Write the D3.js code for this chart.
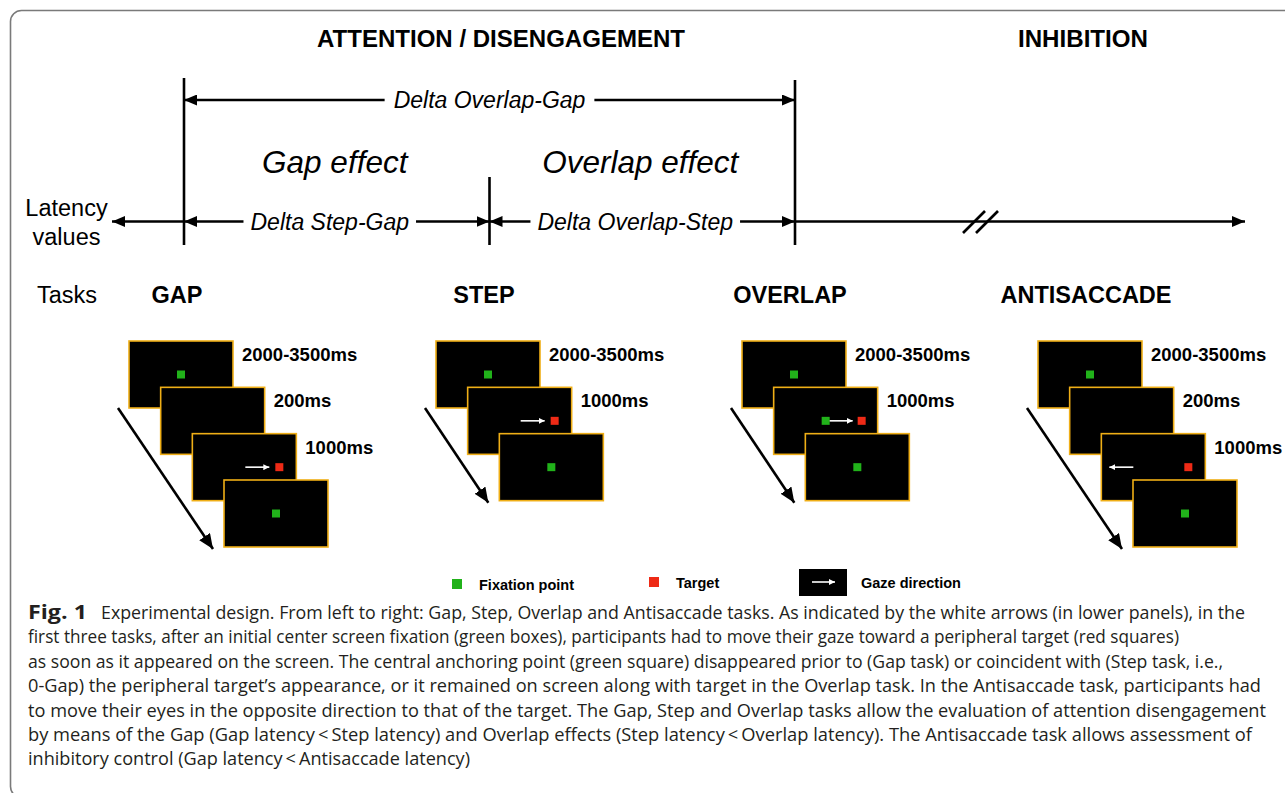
<!DOCTYPE html>
<html><head><meta charset="utf-8">
<script src="https://cdn.jsdelivr.net/npm/d3@7"></script>
<style>body{margin:0;background:#fff} svg{display:block}</style>
</head><body>
<svg id="c" width="1285" height="793"></svg>
<script>
// ---------- data ----------
const sectionTitles = ["ATTENTION / DISENGAGEMENT", "INHIBITION"];
const latencyConditions = ["Gap", "Step", "Overlap"];
const effectLabels = ["Gap effect", "Overlap effect"];
const deltaLabels = ["Delta Step-Gap", "Delta Overlap-Step"];
const totalDeltaLabel = "Delta Overlap-Gap";
const axisLabel = ["Latency", "values"];
const tasksLabel = "Tasks";
const taskNames = ["GAP", "STEP", "OVERLAP", "ANTISACCADE"];
const taskDurations = [
  ["2000-3500ms", "200ms", "1000ms"],
  ["2000-3500ms", "1000ms"],
  ["2000-3500ms", "1000ms"],
  ["2000-3500ms", "200ms", "1000ms"]
];
const taskFrames = [
  ["fixation", "blank", "target-pro", "fixation"],
  ["fixation", "target-pro", "fixation"],
  ["fixation", "target-overlap", "fixation"],
  ["fixation", "blank", "target-anti", "fixation"]
];
const legendItems = ["Fixation point", "Target", "Gaze direction"];
const captionLead = "Fig. 1";
const captionLines = [
  "Experimental design. From left to right: Gap, Step, Overlap and Antisaccade tasks. As indicated by the white arrows (in lower panels), in the",
  "first three tasks, after an initial center screen fixation (green boxes), participants had to move their gaze toward a peripheral target (red squares)",
  "as soon as it appeared on the screen. The central anchoring point (green square) disappeared prior to (Gap task) or coincident with (Step task, i.e.,",
  "0-Gap) the peripheral target\u2019s appearance, or it remained on screen along with target in the Overlap task. In the Antisaccade task, participants had",
  "to move their eyes in the opposite direction to that of the target. The Gap, Step and Overlap tasks allow the evaluation of attention disengagement",
  "by means of the Gap (Gap latency\u2009<\u2009Step latency) and Overlap effects (Step latency\u2009<\u2009Overlap latency). The Antisaccade task allows assessment of",
  "inhibitory control (Gap latency\u2009<\u2009Antisaccade latency)"
];
const captionLineEnds = [1245, 1179, 1223, 1261, 1266, 1252, 470];

// ---------- style ----------
const SANS = "'Liberation Sans', Arial, Helvetica, sans-serif";
const CAP = "'Open Sans', 'Noto Sans', sans-serif";
const GREEN = "#21b21a", RED = "#ee2a16", GOLD = "#efae16", INK = "#000";

const svg = d3.select("#c");
const defs = svg.append("defs");
function marker(id, color, len, hw) {
  defs.append("marker").attr("id", id)
    .attr("viewBox", `0 ${-hw} ${len} ${2*hw}`)
    .attr("refX", len).attr("refY", 0)
    .attr("markerWidth", len).attr("markerHeight", 2*hw)
    .attr("markerUnits", "userSpaceOnUse")
    .attr("orient", "auto-start-reverse")
    .append("path").attr("d", `M0,${-hw}L${len},0L0,${hw}Z`).attr("fill", color);
}
marker("ah", INK, 13, 5.5);
marker("ahw", "#fff", 6, 3);
marker("ahd", INK, 15, 6.5);

// frame
svg.append("rect").attr("x", 10.5).attr("y", 10.5).attr("width", 1300).attr("height", 787)
  .attr("rx", 11).attr("fill", "none").attr("stroke", "#7a7a7a").attr("stroke-width", 1.6);

// ---------- top latency schema ----------
const xLat = d3.scalePoint().domain(latencyConditions).range([184, 795]);
const yTop = 100, yAxis = 221.5;

const secX = [[317, 685], [1018, 1148]];
svg.selectAll("text.sec").data(sectionTitles).join("text").attr("class", "sec")
  .attr("x", (d, i) => secX[i][0]).attr("y", 47)
  .attr("font-family", SANS).attr("font-weight", "bold")
  .attr("font-size", 23).attr("textLength", (d, i) => secX[i][1] - secX[i][0])
  .attr("lengthAdjust", "spacingAndGlyphs").text(d => d);

// vertical markers
const vTop = {Gap: 78, Step: 177, Overlap: 80};
svg.selectAll("line.v").data(latencyConditions).join("line").attr("class", "v")
  .attr("x1", d => xLat(d)).attr("x2", d => xLat(d))
  .attr("y1", d => vTop[d]).attr("y2", 245)
  .attr("stroke", INK).attr("stroke-width", 2.6);

function seg(x1, x2, y, start, end) {
  const l = svg.append("line").attr("x1", x1).attr("x2", x2).attr("y1", y).attr("y2", y)
    .attr("stroke", INK).attr("stroke-width", 2.6);
  if (start) l.attr("marker-start", "url(#ah)");
  if (end) l.attr("marker-end", "url(#ah)");
}
function deltaText(label, cx, y, size) {
  const t = svg.append("text").attr("x", cx).attr("y", y + size * 0.35)
    .attr("text-anchor", "middle").attr("font-family", SANS).attr("font-style", "italic")
    .attr("font-size", size).text(label);
  const w = t.node().getComputedTextLength();
  return [cx - w / 2, cx + w / 2];
}
// Delta Overlap-Gap
{
  const a = xLat("Gap"), b = xLat("Overlap");
  const [l, r] = deltaText(totalDeltaLabel, (a + b) / 2, yTop, 23);
  seg(a, l - 9, yTop, true, false);
  seg(r + 9, b, yTop, false, true);
}
// effects
svg.selectAll("text.eff").data(effectLabels).join("text").attr("class", "eff")
  .attr("x", (d, i) => (xLat(latencyConditions[i]) + xLat(latencyConditions[i + 1])) / 2 - 2)
  .attr("y", 173).attr("text-anchor", "middle").attr("font-family", SANS)
  .attr("font-style", "italic").attr("font-size", 31.5).text(d => d);
// latency axis
deltaLabels.forEach((lab, i) => {
  const a = xLat(latencyConditions[i]), b = xLat(latencyConditions[i + 1]);
  const [l, r] = deltaText(lab, (a + b) / 2 - 7, yAxis, 23);
  seg(a, l - 7, yAxis, true, false);
  seg(r + 7, b, yAxis, false, true);
});
seg(112, xLat("Gap"), yAxis, true, false);
seg(xLat("Overlap"), 1245, yAxis, false, true);
// axis break
[0, 13].forEach(o => {
  svg.append("line").attr("x1", 963 + o).attr("y1", 233).attr("x2", 985 + o).attr("y2", 211)
    .attr("stroke", INK).attr("stroke-width", 2.6);
});
svg.selectAll("text.ax").data(axisLabel).join("text").attr("class", "ax")
  .attr("x", 66.5).attr("y", (d, i) => 216 + i * 29).attr("text-anchor", "middle")
  .attr("font-family", SANS).attr("font-size", 23.5).text(d => d);

// ---------- tasks ----------
svg.append("text").attr("x", 37).attr("y", 303).attr("font-family", SANS)
  .attr("font-size", 23.5).text(tasksLabel);
const xCol = d3.scaleOrdinal().domain(taskNames).range([129, 436, 742, 1038]);
const fx = d3.scaleLinear().domain([0, 3]).range([0, 95]);
const fy = d3.scaleLinear().domain([0, 3]).range([341, 480]);
const W = 104, H = 67, SQ = 8;

svg.selectAll("text.task").data(taskNames).join("text").attr("class", "task")
  .attr("x", d => xCol(d) + 48).attr("y", 303).attr("text-anchor", "middle")
  .attr("font-family", SANS).attr("font-weight", "bold").attr("font-size", 23.5).text(d => d);

function sq(g, cx, cy, color) {
  g.append("rect").attr("x", cx - SQ / 2).attr("y", cy - SQ / 2).attr("width", SQ).attr("height", SQ)
    .attr("fill", color);
}
function gaze(g, x1, x2, cy) {
  g.append("line").attr("x1", x1).attr("x2", x2).attr("y1", cy).attr("y2", cy)
    .attr("stroke", "#fff").attr("stroke-width", 1.6).attr("marker-end", "url(#ahw)");
}

taskNames.forEach((task, ti) => {
  const x0 = xCol(task);
  const frames = taskFrames[ti];
  const n = frames.length;
  const g = svg.append("g");
  // diagonal time arrow
  g.append("line").attr("x1", x0 - 11).attr("y1", 408)
    .attr("x2", x0 - 11 + fx(n - 1)).attr("y2", 408 + (fy(n - 1) - fy(0)) + 2)
    .attr("stroke", INK).attr("stroke-width", 2.6).attr("marker-end", "url(#ahd)");
  frames.forEach((kind, fi) => {
    const x = x0 + fx(fi), y = fy(fi);
    g.append("rect").attr("x", x).attr("y", y).attr("width", W).attr("height", H)
      .attr("fill", "#000").attr("stroke", GOLD).attr("stroke-width", 1.6);
    const cx = x + W / 2, cy = y + H / 2;
    if (kind === "fixation") sq(g, cx, cy, GREEN);
    if (kind === "target-pro") { gaze(g, cx + 1, cx + 25, cy); sq(g, cx + 35, cy, RED); }
    if (kind === "target-overlap") { sq(g, cx, cy, GREEN); gaze(g, cx + 4, cx + 27, cy); sq(g, cx + 36, cy, RED); }
    if (kind === "target-anti") { gaze(g, cx - 20, cx - 44, cy); sq(g, cx + 35, cy, RED); }
  });
  g.selectAll("text.dur").data(taskDurations[ti]).join("text").attr("class", "dur")
    .attr("x", (d, fi) => x0 + fx(fi) + W + 9).attr("y", (d, fi) => fy(fi) + 20)
    .attr("font-family", SANS).attr("font-weight", "bold").attr("font-size", 18.5).text(d => d);
});

// ---------- legend ----------
const lg = svg.append("g").attr("font-family", SANS).attr("font-weight", "bold").attr("font-size", 14.5);
lg.append("rect").attr("x", 452).attr("y", 579).attr("width", 10).attr("height", 10).attr("fill", GREEN);
lg.append("text").attr("x", 479).attr("y", 590).text(legendItems[0]);
lg.append("rect").attr("x", 649).attr("y", 577).attr("width", 10).attr("height", 10).attr("fill", RED);
lg.append("text").attr("x", 676).attr("y", 588).text(legendItems[1]);
lg.append("rect").attr("x", 799).attr("y", 569).attr("width", 48).attr("height", 27).attr("fill", "#000");
lg.append("line").attr("x1", 812).attr("x2", 835).attr("y1", 582).attr("y2", 582)
  .attr("stroke", "#fff").attr("stroke-width", 1.6).attr("marker-end", "url(#ahw)");
lg.append("text").attr("x", 861).attr("y", 588).text(legendItems[2]);

// ---------- caption ----------
const capX = 28, capY0 = 619, capDy = 24.4, leadEnd = 101;
svg.append("text").attr("x", capX).attr("y", capY0).attr("font-family", CAP)
  .attr("font-weight", "bold").attr("font-size", 20).attr("fill", "#231f20")
  .attr("textLength", 59).attr("lengthAdjust", "spacingAndGlyphs").text(captionLead);
svg.selectAll("text.cap").data(captionLines).join("text").attr("class", "cap")
  .attr("x", (d, i) => i === 0 ? leadEnd : capX)
  .attr("y", (d, i) => capY0 + i * capDy)
  .attr("font-family", CAP).attr("font-size", 17.4).attr("fill", "#231f20")
  .attr("textLength", (d, i) => captionLineEnds[i] - (i === 0 ? leadEnd : capX))
  .attr("lengthAdjust", "spacingAndGlyphs")
  .text(d => d);
</script>
</body></html>
